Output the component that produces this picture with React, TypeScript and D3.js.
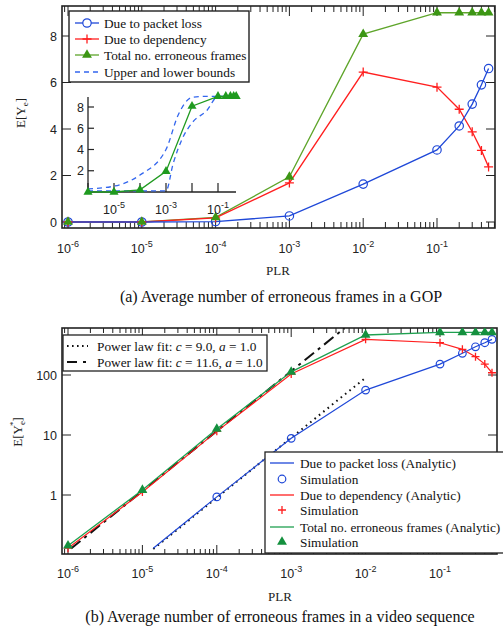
import React from 'react';
import * as d3 from 'd3';

// ---------- data ----------
const PLR = [1e-6, 1e-5, 1e-4, 1e-3, 1e-2, 0.1, 0.2, 0.3, 0.4, 0.5];

// (a) per GOP
const gopLoss = [0, 0, 0.02, 0.26, 1.63, 3.1, 4.13, 5.07, 5.9, 6.6];
const gopDep = [0, 0, 0.18, 1.68, 6.45, 5.8, 4.85, 3.88, 3.08, 2.37];
const gopTotal = [0, 0, 0.2, 1.94, 8.08, 9, 9, 9, 9, 9];

// inset bounds
const upperPLR = [1e-6, 1e-5, 1e-4, 1e-3, 3e-3, 1e-2, 3e-2, 0.1, 0.5];
const upperVal = [0.3, 0.55, 1.6, 4.0, 7.3, 8.9, 9.0, 9.0, 9.0];
const lowerPLR = [1e-6, 1e-5, 1e-4, 1e-3, 1.9e-3, 4.2e-3, 1e-2, 3.8e-2, 0.1, 0.5];
const lowerVal = [0.1, 0.1, 0.1, 0.1, 2.7, 5.0, 6.5, 7.7, 9.0, 9.0];

// (b) per video sequence
const seqLossPLR = [1.4e-5, 1e-4, 1e-3, 1e-2, 0.1, 0.2, 0.3, 0.4, 0.5];
const seqLoss = [0.13, 0.93, 8.8, 56, 152, 230, 295, 345, 393];
const seqDep = [0.13, 1.12, 11.5, 104, 393, 345, 268, 202, 152, 109];
const seqTotal = [0.143, 1.21, 12.6, 113, 464, 515, 512, 512, 512, 512];
const fitDotPLR = [1.4e-5, 1e-2];
const fitDotVal = [0.126, 90];
const fitDashPLR = [1.1e-6, 5.2e-3];
const fitDashVal = [0.128, 603];

const xExps = [-6, -5, -4, -3, -2, -1];
const insetExps = [-5, -3, -1];
const gopYTicks = [0, 2, 4, 6, 8];
const insetYTicks = [2, 4, 6, 8];
const seqYTicks = [1, 10, 100];

// ---------- style ----------
const SANS = "'Liberation Sans', Arial, sans-serif";
const SERIF = "'Liberation Serif', 'Times New Roman', serif";
const BLUE = '#1f48d8';
const RED = '#ff1f1f';
const GREEN_A_LINE = '#5ea52a';
const GREEN_A_MARK = '#3c9614';
const GREEN_IN = '#1f9a1f';
const GREEN_B_LINE = '#1fa050';
const GREEN_B_MARK = '#14903e';
const BOUND = '#3366ee';
const TICK_FS = 12.5;
const LEG_FS = 13.3;

const minorTicks = (lo: number, hi: number) => {
  const out: number[] = [];
  for (let e = -7; e <= 0; e++) for (let k = 1; k <= 9; k++) {
    const v = k * Math.pow(10, e);
    if (v >= lo && v <= hi) out.push(v);
  }
  return out;
};

const tri = d3.symbol(d3.symbolTriangle, 42)() as string;
const triSmall = d3.symbol(d3.symbolTriangle, 36)() as string;

const Pow10 = ({ x, y, e, size = TICK_FS }: { x: number; y: number; e: number; size?: number }) => (
  <text x={x} y={y} textAnchor="middle" fontFamily={SANS} fontSize={size} fill="#222">
    <tspan>10</tspan>
    <tspan dy={-6} fontSize={size * 0.72}>{`-${-e}`}</tspan>
  </text>
);

const Plus = ({ x, y, c, s = 4 }: { x: number; y: number; c: string; s?: number }) => (
  <path d={`M${x - s},${y}H${x + s}M${x},${y - s}V${y + s}`} stroke={c} strokeWidth={1.3} fill="none" />
);

export default function App() {
  // ---- chart (a) ----
  const aL = 62, aR = 495, aT = 6, aB = 228;
  const xa = d3.scaleLog().domain([1e-6, 1e-1]).range([68, 437]);
  const ya = d3.scaleLinear().domain([0, 8]).range([222, 36]);
  const lineA = (ys: number[]) =>
    d3.line<number>().x((_, i) => xa(PLR[i])).y(d => ya(d))(ys) as string;
  const aMinor = minorTicks(xa.invert(aL), xa.invert(aR));

  // inset
  const xi = d3.scaleLog().domain([1e-6, 1e-1]).range([88, 218]);
  const yi = d3.scaleLinear().domain([0, 8]).range([192, 107]);
  const lineI = (xs: number[], ys: number[], curve = d3.curveLinear) =>
    d3.line<number>().curve(curve).x((_, i) => xi(xs[i])).y(d => yi(d))(ys) as string;

  // ---- chart (b) ----
  const bL = 62, bR = 497, bT = 328, bB = 554;
  const xb = d3.scaleLog().domain([1e-6, 1e-1]).range([68, 440]);
  const yb = d3.scaleLog().domain([1, 100]).range([495, 375]);
  const lineB = (xs: number[], ys: number[]) =>
    d3.line<number>().x((_, i) => xb(xs[i])).y(d => yb(d))(ys) as string;
  const bMinor = minorTicks(xb.invert(bL), xb.invert(bR));

  const legA = [
    { t: 'Due to packet loss', c: BLUE, m: 'o' },
    { t: 'Due to dependency', c: RED, m: '+' },
    { t: 'Total no. erroneous frames', c: GREEN_A_LINE, m: '^' },
    { t: 'Upper and lower bounds', c: BOUND, m: 'd' },
  ];
  const legAY = [23, 39, 55, 72];

  const legB2 = [
    { t: 'Due to packet loss (Analytic)', c: BLUE, m: 'l' },
    { t: 'Simulation', c: BLUE, m: 'o' },
    { t: 'Due to dependency (Analytic)', c: RED, m: 'l' },
    { t: 'Simulation', c: RED, m: '+' },
    { t: 'Total no. erroneous frames (Analytic)', c: GREEN_B_LINE, m: 'l' },
    { t: 'Simulation', c: GREEN_B_MARK, m: '^' },
  ];
  const legB2Y = [463, 479, 495, 510, 527, 542];

  return (
    <svg width={503} height={628} style={{ position: 'absolute', left: 0, top: 0, background: '#fff' }}>
      <defs>
        <clipPath id="clipB"><rect x={bL} y={bT} width={bR - bL} height={bB - bT} /></clipPath>
      </defs>
      <rect x={0} y={0} width={503} height={628} fill="#fff" />

      {/* ================= (a) ================= */}
      {aMinor.map((v, i) => {
        const lv = Math.log10(v);
        const major = Math.abs(lv - Math.round(lv)) < 1e-9;
        const len = major ? 10 : 6;
        return (
          <g key={'am' + i} stroke="#222" strokeWidth={1}>
            <line x1={xa(v)} x2={xa(v)} y1={aB} y2={aB - len} />
            <line x1={xa(v)} x2={xa(v)} y1={aT} y2={aT + len} />
          </g>
        );
      })}
      {gopYTicks.map(v => (
        <g key={'ay' + v} stroke="#222" strokeWidth={1}>
          <line x1={aL} x2={aL + 9} y1={ya(v)} y2={ya(v)} />
          <line x1={aR} x2={aR - 9} y1={ya(v)} y2={ya(v)} />
        </g>
      ))}
      <rect x={aL} y={aT} width={aR - aL} height={aB - aT} fill="none" stroke="#222" strokeWidth={1.6} />
      {gopYTicks.map(v => (
        <text key={'ayl' + v} x={57} y={ya(v)} dy="0.36em" textAnchor="end" fontFamily={SANS} fontSize={TICK_FS} fill="#222">{v}</text>
      ))}
      {xExps.map(e => <Pow10 key={'axl' + e} x={xa(Math.pow(10, e))} y={253} e={e} />)}
      <text x={278} y={275} textAnchor="middle" fontFamily={SERIF} fontSize={13} fill="#222">PLR</text>
      <text transform="translate(25,113) rotate(-90)" textAnchor="middle" fontFamily={SERIF} fontSize={13} fill="#222">
        E[Y<tspan dy={3} fontSize={9}>e</tspan><tspan dy={-3}>]</tspan>
      </text>
      <text x={281} y={302} textAnchor="middle" fontFamily={SERIF} fontSize={16} fill="#111">(a) Average number of erroneous frames in a GOP</text>

      {/* lines (a) */}
      <path d={lineA(gopTotal)} fill="none" stroke={GREEN_A_LINE} strokeWidth={1.3} />
      <path d={lineA(gopDep)} fill="none" stroke={RED} strokeWidth={1.3} />
      <path d={lineA(gopLoss)} fill="none" stroke={BLUE} strokeWidth={1.3} />
      {gopLoss.map((v, i) => <circle key={'ac' + i} cx={xa(PLR[i])} cy={ya(v)} r={4.2} fill="none" stroke={BLUE} strokeWidth={1.2} />)}
      {gopDep.map((v, i) => <Plus key={'ap' + i} x={xa(PLR[i])} y={ya(v)} c={RED} s={4.5} />)}
      {gopTotal.map((v, i) => <path key={'at' + i} d={tri} transform={`translate(${xa(PLR[i])},${ya(v)})`} fill={GREEN_A_MARK} />)}

      {/* legend (a) */}
      <rect x={69} y={11} width={180} height={71} fill="#fff" stroke="#222" strokeWidth={1.4} />
      {legA.map((d, i) => (
        <g key={'la' + i}>
          <line x1={75} x2={99} y1={legAY[i]} y2={legAY[i]} stroke={d.c} strokeWidth={1.3} strokeDasharray={d.m === 'd' ? '5,4' : undefined} />
          {d.m === 'o' && <circle cx={87} cy={legAY[i]} r={4.2} fill="#fff" stroke={d.c} strokeWidth={1.2} />}
          {d.m === '+' && <Plus x={87} y={legAY[i]} c={d.c} s={4.5} />}
          {d.m === '^' && <path d={tri} transform={`translate(87,${legAY[i]})`} fill={GREEN_A_MARK} />}
          <text x={104} y={legAY[i]} dy="0.35em" fontFamily={SERIF} fontSize={LEG_FS} fill="#111">{d.t}</text>
        </g>
      ))}

      {/* inset */}
      <line x1={88} x2={236} y1={192} y2={192} stroke="#222" strokeWidth={1.3} />
      <line x1={88} x2={88} y1={97} y2={192} stroke="#222" strokeWidth={1.3} />
      {xExps.map(e => (
        <line key={'ixt' + e} x1={xi(Math.pow(10, e))} x2={xi(Math.pow(10, e))} y1={192} y2={183} stroke="#222" strokeWidth={1.2} />
      ))}
      {insetYTicks.map(v => (
        <g key={'iyt' + v}>
          <line x1={88} x2={94} y1={yi(v)} y2={yi(v)} stroke="#222" strokeWidth={1.2} />
          <text x={84} y={yi(v)} dy="0.36em" textAnchor="end" fontFamily={SANS} fontSize={TICK_FS} fill="#222">{v}</text>
        </g>
      ))}
      {insetExps.map(e => <Pow10 key={'ixl' + e} x={xi(Math.pow(10, e))} y={214} e={e} />)}
      <path d={lineI(upperPLR, upperVal, d3.curveMonotoneX)} fill="none" stroke={BOUND} strokeWidth={1.3} strokeDasharray="5,4" />
      <path d={lineI(lowerPLR, lowerVal, d3.curveMonotoneX)} fill="none" stroke={BOUND} strokeWidth={1.3} strokeDasharray="5,4" />
      <path d={lineI(PLR, gopTotal)} fill="none" stroke={GREEN_IN} strokeWidth={1.3} />
      {gopTotal.map((v, i) => <path key={'it' + i} d={triSmall} transform={`translate(${xi(PLR[i])},${yi(v)})`} fill={GREEN_IN} />)}

      {/* ================= (b) ================= */}
      {bMinor.map((v, i) => {
        const lv = Math.log10(v);
        const major = Math.abs(lv - Math.round(lv)) < 1e-9;
        const len = major ? 9 : 5;
        return (
          <g key={'bm' + i} stroke="#222" strokeWidth={1}>
            <line x1={xb(v)} x2={xb(v)} y1={bB} y2={bB - len} />
            <line x1={xb(v)} x2={xb(v)} y1={bT} y2={bT + len} />
          </g>
        );
      })}
      {seqYTicks.map(v => (
        <g key={'by' + v} stroke="#222" strokeWidth={1}>
          <line x1={bL} x2={bL + 9} y1={yb(v)} y2={yb(v)} />
          <line x1={bR} x2={bR - 9} y1={yb(v)} y2={yb(v)} />
        </g>
      ))}
      <rect x={bL} y={bT} width={bR - bL} height={bB - bT} fill="none" stroke="#222" strokeWidth={1.6} />
      {seqYTicks.map(v => (
        <text key={'byl' + v} x={57} y={yb(v)} dy="0.36em" textAnchor="end" fontFamily={SANS} fontSize={TICK_FS} fill="#222">{v}</text>
      ))}
      {xExps.map(e => <Pow10 key={'bxl' + e} x={xb(Math.pow(10, e))} y={578} e={e} />)}
      <text x={280} y={601} textAnchor="middle" fontFamily={SERIF} fontSize={13} fill="#222">PLR</text>
      <text transform="translate(22,432) rotate(-90)" textAnchor="middle" fontFamily={SERIF} fontSize={13} fill="#222">
        E[Y<tspan dy={3} fontSize={9}>e</tspan><tspan dy={-9} dx={-5} fontSize={9}>*</tspan><tspan dy={6}>]</tspan>
      </text>
      <text x={280} y={622} textAnchor="middle" fontFamily={SERIF} fontSize={16} fill="#111">(b) Average number of erroneous frames in a video sequence</text>

      <g clipPath="url(#clipB)">
        <path d={lineB(fitDashPLR, fitDashVal)} fill="none" stroke="#111" strokeWidth={2} strokeDasharray="12,5,3,5" />
        <path d={lineB(fitDotPLR, fitDotVal)} fill="none" stroke="#111" strokeWidth={2} strokeDasharray="1.6,4" />
        <path d={lineB(seqLossPLR, seqLoss)} fill="none" stroke={BLUE} strokeWidth={1.2} />
        <path d={lineB(PLR, seqDep)} fill="none" stroke={RED} strokeWidth={1.2} />
        <path d={lineB(PLR, seqTotal)} fill="none" stroke={GREEN_B_LINE} strokeWidth={1.3} />
        {seqLoss.slice(1).map((v, i) => <circle key={'bc' + i} cx={xb(seqLossPLR[i + 1])} cy={yb(v)} r={3.8} fill="none" stroke={BLUE} strokeWidth={1.2} />)}
        {seqDep.map((v, i) => <Plus key={'bp' + i} x={xb(PLR[i])} y={yb(v)} c={RED} s={4} />)}
        {seqTotal.map((v, i) => <path key={'bt' + i} d={tri} transform={`translate(${xb(PLR[i])},${yb(v)})`} fill={GREEN_B_MARK} />)}
      </g>

      {/* legend 1 (b) */}
      <rect x={63} y={335} width={204} height={36} fill="#fff" stroke="#222" strokeWidth={1.3} />
      <line x1={67} x2={88} y1={346} y2={346} stroke="#111" strokeWidth={2} strokeDasharray="1.6,3.4" />
      <line x1={67} x2={88} y1={362} y2={362} stroke="#111" strokeWidth={2} strokeDasharray="10,6,3,10" />
      <text x={97} y={346} dy="0.35em" fontFamily={SERIF} fontSize={LEG_FS} fill="#111">
        Power law fit: <tspan fontStyle="italic">c</tspan> = 9.0, <tspan fontStyle="italic">a</tspan> = 1.0
      </text>
      <text x={97} y={362} dy="0.35em" fontFamily={SERIF} fontSize={LEG_FS} fill="#111">
        Power law fit: <tspan fontStyle="italic">c</tspan> = 11.6, <tspan fontStyle="italic">a</tspan> = 1.0
      </text>

      {/* legend 2 (b) */}
      <rect x={265} y={452} width={245} height={101} fill="#fff" stroke="#222" strokeWidth={1.3} />
      {legB2.map((d, i) => (
        <g key={'lb' + i}>
          {d.m === 'l' && <line x1={270} x2={294} y1={legB2Y[i]} y2={legB2Y[i]} stroke={d.c} strokeWidth={1.3} />}
          {d.m === 'o' && <circle cx={282} cy={legB2Y[i]} r={3.8} fill="none" stroke={d.c} strokeWidth={1.2} />}
          {d.m === '+' && <Plus x={282} y={legB2Y[i]} c={d.c} s={4} />}
          {d.m === '^' && <path d={tri} transform={`translate(282,${legB2Y[i]})`} fill={d.c} />}
          <text x={300} y={legB2Y[i]} dy="0.35em" fontFamily={SERIF} fontSize={LEG_FS} fill="#111">{d.t}</text>
        </g>
      ))}
    </svg>
  );
}
